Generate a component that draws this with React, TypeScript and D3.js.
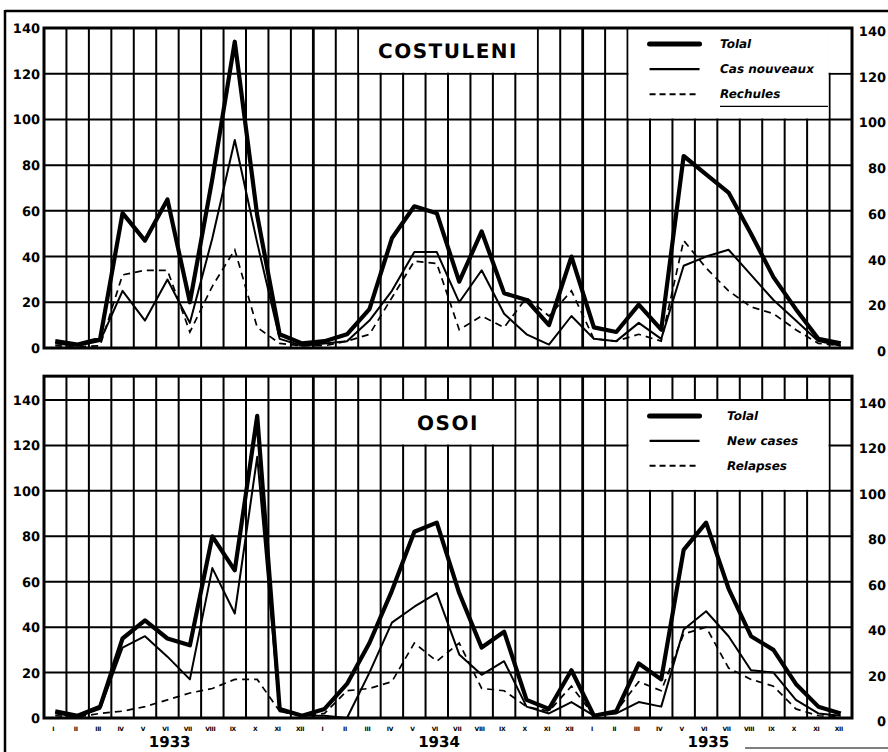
import React from "react";
import * as d3 from "d3";

const months = ["I", "II", "III", "IV", "V", "VI", "VII", "VIII", "IX", "X", "XI", "XII"];
const years = ["1933", "1934", "1935"];
const yTicks = [0, 20, 40, 60, 80, 100, 120, 140];

const costuleniTotal = [3, 1.5, 4, 59, 47, 65, 20, 74, 134, 58, 6, 2, 3, 6, 17, 48, 62, 59, 29, 51, 24, 21, 10, 40, 9, 7, 19, 8, 84, 76, 68, 50, 31, 17, 4, 2];
const costuleniNew = [2, 1, 3, 25, 12, 30, 11, 48, 91, 46, 4, 1, 2, 3, 12, 25, 42, 42, 20, 34, 15, 6, 1.5, 14, 4, 3, 11, 4, 36, 40, 43, 32, 21, 12, 3, 1];
const costuleniRelapses = [1, 0.5, 1, 32, 34, 34, 7, 27, 43, 9, 2, 1, 1, 3, 6, 22, 38, 37, 8, 14, 9, 22, 14, 25, 4, 3, 6, 3, 47, 35, 25, 18, 15, 8, 2, 1];

const osoiTotal = [3, 1, 5, 35, 43, 35, 32, 80, 65, 133, 4, 1, 4, 15, 33, 56, 82, 86, 55, 31, 38, 8, 4, 21, 1, 3, 24, 17, 74, 86, 57, 36, 30, 15, 5, 2];
const osoiNew = [2, 0.5, 4, 31, 36, 27, 17, 66, 46, 115, 3, 1, 1, 0, 20, 42, 49, 55, 28, 19, 25, 5, 2, 7, 1, 2, 7, 5, 39, 47, 36, 21, 20, 8, 2, 1];
const osoiRelapses = [1, 0.5, 2, 3, 5, 8, 11, 13, 17, 17, 3, 1, 2, 12, 13, 16, 33, 25, 33, 13, 12, 5, 3, 14, 1, 3, 16, 12, 37, 40, 22, 17, 14, 4, 1, 0.5];

const costuleniLegend = ["Tolal", "Cas nouveaux", "Rechules"];
const osoiLegend = ["Tolal", "New cases", "Relapses"];

const FONT = "'DejaVu Sans', Arial, sans-serif";
const nMonths = months.length * years.length;

const x = d3.scaleLinear().domain([0, nMonths]).range([44, 852]);

type PanelProps = {
  y: d3.ScaleLinear<number, number>;
  boxTopValue: number;
  title: string;
  titleCols: [number, number];
  legend: string[];
  total: number[];
  fresh: number[];
  relapses: number[];
  topRightWhite: boolean;
  legendTextX: number;
};

function Panel({ y, boxTopValue, title, titleCols, legend, total, fresh, relapses, topRightWhite, legendTextX }: PanelProps) {
  const line = d3
    .line<number>()
    .x((_, i) => x(i + 0.5))
    .y((d) => y(d));
  const yTop = y(boxTopValue);
  const y0 = y(0);
  const cols = d3.range(1, nMonths);
  const legendCols: [number, number] = [26, 35];
  return (
    <g>
      {cols.map((c) => (
        <line
          key={"v" + c}
          x1={x(c)}
          x2={x(c)}
          y1={yTop}
          y2={y0}
          stroke="#000"
          strokeWidth={c % 12 === 0 ? 2.8 : 2}
        />
      ))}
      {yTicks.slice(1).map((t) => (
        <line key={"h" + t} x1={x(0)} x2={x(nMonths)} y1={y(t)} y2={y(t)} stroke="#000" strokeWidth={2} />
      ))}
      <rect x={x(titleCols[0]) + 1} y={y(140) + 1} width={x(titleCols[1]) - x(titleCols[0]) - 2} height={y(120) - y(140) - 2} fill="#fff" />
      <rect x={x(legendCols[0]) + 1} y={y(140) + 1} width={x(legendCols[1]) - x(legendCols[0]) - 2} height={y(100) - y(140) - 2} fill="#fff" />
      {topRightWhite && (
        <rect x={x(legendCols[1]) - 1.5} y={y(140) + 1} width={x(nMonths) - x(legendCols[1])} height={y(120) - y(140) - 2} fill="#fff" />
      )}
      <rect x={x(0)} y={yTop} width={x(nMonths) - x(0)} height={y0 - yTop} fill="none" stroke="#000" strokeWidth={3} />
      <text
        x={(x(titleCols[0]) + x(titleCols[1])) / 2}
        y={(y(140) + y(120)) / 2 + 7}
        textAnchor="middle"
        fontFamily={FONT}
        fontWeight="bold"
        fontSize={20}
        letterSpacing={1.5}
      >
        {title}
      </text>
      {legend.map((lab, i) => {
        const ly = y(133) + i * (y(120) - y(131));
        return (
          <g key={lab}>
            <line
              x1={x(legendCols[0]) + 22}
              x2={x(legendCols[0]) + 72}
              y1={ly}
              y2={ly}
              stroke="#000"
              strokeWidth={i === 0 ? 5 : i === 1 ? 2.4 : 2}
              strokeDasharray={i === 2 ? "6,4" : undefined}
              strokeLinecap={i === 0 ? "round" : "butt"}
            />
            <text x={legendTextX} y={ly + 4} fontFamily={FONT} fontStyle="italic" fontWeight="bold" fontSize={12}>
              {lab}
            </text>
          </g>
        );
      })}
      {yTicks.map((t) => (
        <g key={"yl" + t}>
          <text x={40} y={y(t) + 5} textAnchor="end" fontFamily={FONT} fontWeight="bold" fontSize={13}>
            {t}
          </text>
          <text x={886} y={y(t) + 8} textAnchor="end" fontFamily={FONT} fontWeight="bold" fontSize={13}>
            {t}
          </text>
        </g>
      ))}
      <path d={line(relapses) ?? ""} fill="none" stroke="#000" strokeWidth={1.7} strokeDasharray="7,5" />
      <path d={line(fresh) ?? ""} fill="none" stroke="#000" strokeWidth={2} strokeLinejoin="round" />
      <path d={line(total) ?? ""} fill="none" stroke="#000" strokeWidth={4.2} strokeLinejoin="round" />
    </g>
  );
}

export default function App() {
  const yTopPanel = d3.scaleLinear().domain([0, 140]).range([348, 28]);
  const yBottomPanel = d3.scaleLinear().domain([0, 140]).range([718, 400]);
  const allMonths = years.flatMap((yr) => months.map((m) => ({ yr, m })));
  return (
    <svg width={888} height={752} style={{ position: "absolute", left: 0, top: 0, background: "#fff" }} textRendering="geometricPrecision">
      <rect width={888} height={752} fill="#fff" />
      <line x1={5} x2={888} y1={11} y2={11} stroke="#000" strokeWidth={2.5} />
      <line x1={5} x2={5} y1={10} y2={752} stroke="#000" strokeWidth={2.5} />
      <line x1={745} x2={888} y1={748} y2={748} stroke="#000" strokeWidth={1} />
      <Panel
        y={yTopPanel}
        boxTopValue={140}
        title="COSTULENI"
        titleCols={[14, 22]}
        legend={costuleniLegend}
        total={costuleniTotal}
        fresh={costuleniNew}
        relapses={costuleniRelapses}
        topRightWhite={true}
        legendTextX={720}
      />
      <line x1={720} x2={828} y1={yTopPanel(100) - 13} y2={yTopPanel(100) - 13} stroke="#000" strokeWidth={1.2} />
      <Panel
        y={yBottomPanel}
        boxTopValue={150.5}
        title="OSOI"
        titleCols={[15, 21]}
        legend={osoiLegend}
        total={osoiTotal}
        fresh={osoiNew}
        relapses={osoiRelapses}
        topRightWhite={false}
        legendTextX={727}
      />
      {allMonths.map((d, i) => (
        <text key={"m" + i} x={x(i + 0.5) - 2} y={731} textAnchor="middle" fontFamily={FONT} fontWeight="bold" fontSize={6} letterSpacing={-0.3} fill="#000">
          {d.m}
        </text>
      ))}
      {years.map((yr, i) => (
        <text key={yr} x={x(i * 12 + 5.6)} y={747} textAnchor="middle" fontFamily={FONT} fontWeight="bold" fontSize={15}>
          {yr}
        </text>
      ))}
    </svg>
  );
}
